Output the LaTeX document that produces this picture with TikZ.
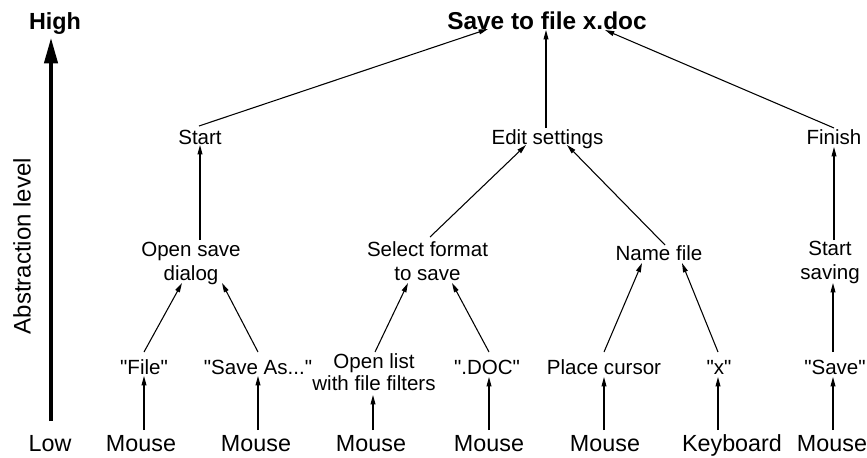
\documentclass[tikz,border=0pt]{standalone}
\usepackage{fontspec}
\setmainfont{Liberation Sans}
\usetikzlibrary{arrows.meta,calc}
\newcommand{\qq}{\textquotedbl}
\tikzset{
  lbl/.style={inner sep=0pt, align=center, text height=11pt, text depth=0pt,
    font=\fontsize{15.4}{18}\selectfont},
  twolbl/.style={lbl, text height=29pt},
  lowlbl/.style={inner sep=0pt, text height=12.5pt, text depth=0pt,
    font=\fontsize{17.5}{20}\selectfont},
  toplbl/.style={inner sep=0pt, text height=13.1pt, text depth=0pt,
    font=\fontsize{18.3}{21}\selectfont\bfseries},
  arr/.style={line width=0.8pt, -{Triangle[length=7pt,width=3.6pt]}},
  bigarr/.style={line width=2.4pt, -{Triangle[length=19pt,width=10pt]}}
}
\begin{document}
\begin{tikzpicture}[x=0.75pt,y=-0.75pt]
\useasboundingbox (0,0) rectangle (867,457);
% axis
\node[toplbl, text height=12.5pt, font=\fontsize{17.5}{20}\selectfont\bfseries] (high) at (55,21) {High};
\node[lowlbl] (low) at (50,443) {Low};
\node[inner sep=0pt, rotate=90, font=\fontsize{18}{20}\selectfont] (abst) at (22,246) {Abstraction level};
\draw[bigarr] ($(low)+(1,-22)$) -- ($(high)+(-4,17)$);
% top
\node[toplbl] (top) at (547,21) {Save to file x.doc};
% level 2
\node[lbl] (start) at (200,137) {Start};
\node[lbl] (edit) at (547.5,137) {Edit settings};
\node[lbl] (finish) at (834,137) {Finish};
% level 3
\node[twolbl] (osd) at (191,261) {Open save\\dialog};
\node[twolbl] (sel) at (427.5,261) {Select format\\to save};
\node[lbl] (name) at (659,253) {Name file};
\node[twolbl] (ss) at (830,260) {Start\\saving};
% level 4
\node[lbl] (file) at (144,367) {\qq File\qq};
\node[lbl] (saveas) at (258,367) {\qq Save As...\qq};
\node[lbl, font=\fontsize{15.4}{16.5}\selectfont, text height=27.5pt] (olist) at (374,372) {Open list\\with file filters};
\node[lbl] (doc) at (487,367) {\qq.DOC\qq};
\node[lbl] (place) at (604,367) {Place cursor};
\node[lbl] (xq) at (719,367) {\qq x\qq};
\node[lbl] (save) at (835,367) {\qq Save\qq};
% bottom
\node[lowlbl] (m1) at (141,443) {Mouse};
\node[lowlbl] (m2) at (256,443) {Mouse};
\node[lowlbl] (m3) at (371,443) {Mouse};
\node[lowlbl] (m4) at (489,443) {Mouse};
\node[lowlbl] (m5) at (605,443) {Mouse};
\node[lowlbl] (kb) at (732,443) {Keyboard};
\node[lowlbl] (m6) at (832,443) {Mouse};
% arrows bottom -> level 4
\draw[arr] ($(m1)+(3,-13)$) -- ($(file)+(0,9)$);
\draw[arr] ($(m2)+(2,-13)$) -- ($(saveas)+(0,9)$);
\draw[arr] ($(m3)+(2,-13)$) -- ($(olist)+(-1,23)$);
\draw[arr] ($(m4)+(0,-13)$) -- ($(doc)+(2,10)$);
\draw[arr] ($(m5)+(-1,-13)$) -- ($(place)+(0,10)$);
\draw[arr] ($(kb)+(-14,-13)$) -- ($(xq)+(-1,10)$);
\draw[arr] ($(m6)+(1,-13)$) -- ($(save)+(-2,10)$);
% level 4 -> level 3
\draw[arr] ($(file)+(0,-15)$) -- ($(osd)+(-9,22)$);
\draw[arr] ($(saveas)+(0,-15)$) -- ($(osd)+(31,22)$);
\draw[arr] ($(olist)+(1,-20)$) -- ($(sel)+(-19.5,22)$);
\draw[arr] ($(doc)+(2,-15)$) -- ($(sel)+(24.5,22)$);
\draw[arr] ($(place)+(0,-15)$) -- ($(name)+(-17,10)$);
\draw[arr] ($(xq)+(-1,-15)$) -- ($(name)+(23,10)$);
\draw[arr] ($(save)+(-2,-15)$) -- ($(ss)+(3,23)$);
% level 3 -> level 2
\draw[arr] ($(osd)+(9,-21)$) -- ($(start)+(0,8)$);
\draw[arr] ($(sel)+(2.5,-24)$) -- ($(edit)+(-21.5,8)$);
\draw[arr] ($(name)+(6,-8)$) -- ($(edit)+(19.5,8)$);
\draw[arr] ($(ss)+(4,-20)$) -- ($(finish)+(0,10)$);
% level 2 -> top
\draw[arr] ($(start)+(-1,-11)$) -- ($(top)+(-59,8)$);
\draw[arr] ($(edit)+(-1.5,-9)$) -- ($(top)+(-1,9)$);
\draw[arr] ($(finish)+(0,-9)$) -- ($(top)+(58,9)$);
\end{tikzpicture}
\end{document}
